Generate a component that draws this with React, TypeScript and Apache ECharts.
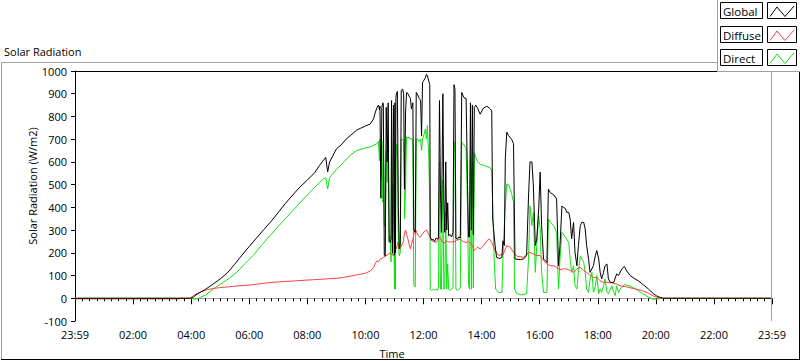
import React, { useEffect, useRef } from "react";
import * as echarts from "echarts";

const FONT = "'Open Sans', 'Noto Sans', sans-serif";

const titleText = "Solar Radiation";
const yAxisTitle = "Solar Radiation (W/m2)";
const xAxisTitle = "Time";
const legendNames = ["Global", "Diffuse", "Direct"];
const seriesColors = ["#000000", "#ff4040", "#10e010"];

const yMin = -100;
const yMax = 1000;
const yStep = 100;
const xMin = 0;
const xMax = 1440;
const xStep = 120;

const globalData: [string, number][] = [
  ["00:00", 0], ["03:58", 0], ["04:05", 6], ["04:12", 18], ["04:20", 28], ["04:30", 40], ["04:45", 62],
  ["05:00", 85], ["05:15", 112], ["05:30", 150], ["05:45", 190], ["06:00", 228], ["06:15", 265],
  ["06:30", 302], ["06:45", 338], ["07:00", 378], ["07:15", 418], ["07:30", 455], ["07:45", 490],
  ["08:00", 520], ["08:15", 552], ["08:25", 584], ["08:33", 606], ["08:38", 620], ["08:42", 556],
  ["08:46", 600], ["09:00", 657], ["09:10", 675], ["09:20", 700], ["09:30", 718], ["09:42", 740],
  ["09:50", 748], ["10:00", 758], ["10:10", 767], ["10:17", 790], ["10:20", 815], ["10:24", 840],
  ["10:27", 850], ["10:29", 830], ["10:30", 845], ["10:32", 440], ["10:34", 840], ["10:36", 860],
  ["10:37", 855], ["10:39", 190], ["10:41", 186], ["10:43", 840], ["10:45", 600], ["10:47", 860],
  ["10:49", 250], ["10:51", 245], ["10:53", 260], ["10:54", 870], ["10:56", 200], ["10:58", 850],
  ["11:00", 190], ["11:01", 860], ["11:02", 200], ["11:03", 880], ["11:04", 900], ["11:06", 910],
  ["11:08", 400], ["11:10", 217], ["11:12", 240], ["11:14", 915], ["11:17", 920], ["11:19", 900],
  ["11:21", 480], ["11:23", 820], ["11:25", 905], ["11:28", 900], ["11:30", 890], ["11:33", 880],
  ["11:35", 833], ["11:38", 860], ["11:40", 300], ["11:43", 290], ["11:45", 906], ["11:48", 895],
  ["11:51", 880], ["11:54", 870], ["11:56", 715], ["11:58", 950], ["12:01", 960], ["12:04", 970],
  ["12:06", 985], ["12:08", 980], ["12:11", 955], ["12:13", 940], ["12:14", 270], ["12:17", 255],
  ["12:20", 260], ["12:23", 250], ["12:26", 265], ["12:29", 260], ["12:31", 270], ["12:33", 870],
  ["12:35", 480], ["12:37", 290], ["12:40", 900], ["12:42", 430], ["12:44", 290], ["12:46", 600],
  ["12:48", 300], ["12:50", 420], ["12:52", 275], ["12:55", 280], ["12:58", 270], ["13:01", 290],
  ["13:03", 940], ["13:05", 920], ["13:07", 265], ["13:10", 260], ["13:13", 270], ["13:16", 265],
  ["13:19", 906], ["13:22", 890], ["13:25", 880], ["13:28", 880], ["13:31", 500], ["13:33", 270],
  ["13:35", 270], ["13:37", 860], ["13:39", 300], ["13:41", 850], ["13:43", 280], ["13:45", 840],
  ["13:48", 850], ["13:52", 835], ["13:57", 810], ["14:04", 837], ["14:11", 845], ["14:18", 833],
  ["14:21", 825], ["14:23", 349], ["14:28", 230], ["14:31", 180], ["14:38", 175], ["14:42", 180],
  ["14:44", 253], ["14:47", 232], ["14:49", 613], ["14:52", 731], ["14:56", 715], ["15:02", 700],
  ["15:06", 680], ["15:09", 173], ["15:20", 170], ["15:27", 173], ["15:33", 188], ["15:37", 450],
  ["15:40", 600], ["15:44", 600], ["15:47", 494], ["15:51", 232], ["15:54", 261], ["15:58", 393],
  ["16:01", 555], ["16:04", 320], ["16:08", 173], ["16:15", 158], ["16:18", 480], ["16:22", 465],
  ["16:29", 455], ["16:35", 437], ["16:39", 143], ["16:42", 232], ["16:46", 406], ["16:49", 400],
  ["16:53", 395], ["16:56", 378], ["17:00", 378], ["17:03", 349], ["17:06", 261], ["17:10", 334],
  ["17:13", 202], ["17:17", 143], ["17:20", 232], ["17:24", 320], ["17:27", 334], ["17:31", 334],
  ["17:34", 305], ["17:37", 232], ["17:41", 173], ["17:44", 114], ["17:51", 143], ["17:55", 188],
  ["17:58", 210], ["18:02", 173], ["18:05", 114], ["18:08", 85], ["18:12", 114], ["18:15", 143],
  ["18:19", 151], ["18:22", 85], ["18:26", 70], ["18:33", 70], ["18:39", 107], ["18:43", 100],
  ["18:50", 130], ["18:55", 140], ["19:00", 120], ["19:07", 100], ["19:15", 88], ["19:25", 75],
  ["19:35", 58], ["19:45", 40], ["19:55", 20], ["20:02", 10], ["20:10", 3], ["20:15", 0], ["24:00", 0],
];

const diffuseData: [string, number][] = [
  ["00:00", -3], ["03:36", -3], ["03:37", 0], ["03:58", 0], ["04:05", 12], ["04:12", 20], ["04:20", 28],
  ["04:30", 36], ["04:45", 43], ["05:00", 47], ["05:15", 50], ["05:30", 53], ["05:45", 56], ["06:00", 58],
  ["06:15", 62], ["06:30", 66], ["06:45", 70], ["07:00", 72], ["07:15", 74], ["07:30", 76], ["07:45", 78],
  ["08:00", 80], ["08:15", 82], ["08:30", 84], ["08:45", 86], ["09:00", 88], ["09:15", 92], ["09:30", 98],
  ["09:45", 104], ["10:00", 110], ["10:10", 120], ["10:17", 136], ["10:21", 155], ["10:24", 165],
  ["10:27", 160], ["10:30", 172], ["10:34", 176], ["10:37", 180], ["10:41", 186], ["10:45", 190],
  ["10:49", 198], ["10:53", 194], ["10:56", 190], ["10:58", 188], ["11:00", 200], ["11:02", 230],
  ["11:04", 217], ["11:07", 246], ["11:10", 225], ["11:12", 217], ["11:15", 235], ["11:18", 246],
  ["11:21", 290], ["11:23", 300], ["11:25", 280], ["11:28", 260], ["11:30", 240], ["11:33", 217],
  ["11:35", 235], ["11:38", 260], ["11:41", 290], ["11:43", 305], ["11:46", 290], ["11:49", 275],
  ["11:52", 270], ["11:54", 270], ["11:57", 280], ["12:01", 292], ["12:04", 298], ["12:06", 300],
  ["12:08", 292], ["12:11", 282], ["12:14", 265], ["12:17", 255], ["12:20", 250], ["12:23", 248],
  ["12:26", 245], ["12:29", 252], ["12:33", 270], ["12:37", 255], ["12:40", 245], ["12:44", 245],
  ["12:48", 252], ["12:52", 248], ["12:58", 248], ["13:03", 248], ["13:07", 255], ["13:13", 258],
  ["13:16", 260], ["13:22", 250], ["13:28", 245], ["13:33", 250], ["13:39", 240], ["13:43", 220],
  ["13:45", 210], ["13:48", 218], ["13:52", 225], ["13:57", 217], ["14:04", 232], ["14:11", 253],
  ["14:16", 261], ["14:21", 245], ["14:28", 210], ["14:35", 188], ["14:45", 195], ["14:52", 232],
  ["14:59", 225], ["15:06", 202], ["15:13", 185], ["15:27", 180], ["15:33", 195], ["15:40", 202],
  ["15:47", 195], ["15:54", 188], ["16:01", 188], ["16:08", 165], ["16:15", 151], ["16:22", 143],
  ["16:29", 143], ["16:35", 136], ["16:42", 126], ["16:49", 129], ["16:56", 129], ["17:03", 122],
  ["17:10", 114], ["17:17", 129], ["17:24", 136], ["17:31", 122], ["17:37", 114], ["17:44", 102],
  ["17:51", 92], ["17:58", 92], ["18:05", 77], ["18:12", 70], ["18:19", 70], ["18:26", 68],
  ["18:33", 66], ["18:39", 63], ["18:46", 55], ["19:00", 50], ["19:15", 42], ["19:30", 35],
  ["19:45", 22], ["19:55", 10], ["20:05", 3], ["20:12", 0], ["24:00", 0],
];

const directData: [string, number][] = [
  ["00:00", 0], ["04:00", 0], ["04:05", -3], ["04:15", -3], ["04:20", 5], ["04:30", 15], ["04:46", 41],
  ["05:06", 70], ["05:20", 90], ["05:34", 114], ["05:50", 150], ["06:08", 188], ["06:25", 232],
  ["06:43", 276], ["07:00", 316], ["07:17", 356], ["07:35", 397], ["07:52", 437], ["08:05", 466],
  ["08:19", 496], ["08:33", 525], ["08:38", 530], ["08:42", 481], ["08:46", 532], ["09:01", 569],
  ["09:15", 598], ["09:28", 628], ["09:42", 650], ["10:00", 662], ["10:10", 666], ["10:23", 679],
  ["10:27", 690], ["10:29", 604], ["10:30", 700], ["10:32", 525], ["10:34", 690], ["10:36", 423],
  ["10:37", 700], ["10:39", 320], ["10:41", 320], ["10:43", 650], ["10:45", 510], ["10:47", 700],
  ["10:49", 248], ["10:51", 275], ["10:53", 160], ["10:54", 690], ["10:56", 190], ["10:58", 500],
  ["11:00", 41], ["11:01", 620], ["11:02", 40], ["11:03", 600], ["11:04", 670], ["11:06", 680],
  ["11:08", 246], ["11:10", 187], ["11:12", 200], ["11:14", 700], ["11:17", 700], ["11:19", 690],
  ["11:21", 349], ["11:23", 500], ["11:25", 710], ["11:28", 705], ["11:30", 710], ["11:33", 700],
  ["11:35", 705], ["11:38", 690], ["11:40", 55], ["11:43", 50], ["11:45", 700], ["11:48", 700],
  ["11:51", 690], ["11:54", 700], ["11:56", 650], ["11:58", 700], ["12:01", 720], ["12:04", 745],
  ["12:06", 700], ["12:08", 760], ["12:11", 613], ["12:13", 420], ["12:14", 40], ["12:17", 35],
  ["12:20", 40], ["12:23", 35], ["12:26", 40], ["12:29", 35], ["12:31", 50], ["12:33", 600],
  ["12:35", 40], ["12:37", 40], ["12:40", 520], ["12:42", 40], ["12:44", 45], ["12:46", 380],
  ["12:48", 40], ["12:50", 150], ["12:52", 40], ["12:55", 35], ["12:58", 40], ["13:01", 45],
  ["13:03", 690], ["13:05", 650], ["13:07", 40], ["13:10", 35], ["13:13", 40], ["13:16", 45],
  ["13:19", 686], ["13:22", 680], ["13:25", 670], ["13:28", 660], ["13:31", 400], ["13:33", 60],
  ["13:35", 40], ["13:37", 620], ["13:39", 40], ["13:41", 600], ["13:43", 45], ["13:45", 640],
  ["13:48", 620], ["13:52", 600], ["13:57", 590], ["14:04", 585], ["14:11", 580], ["14:18", 575],
  ["14:21", 560], ["14:23", 407], ["14:26", 173], ["14:29", 41], ["14:35", 26], ["14:42", 26],
  ["14:45", 230], ["14:49", 407], ["14:52", 503], ["14:56", 500], ["14:59", 480], ["15:02", 460],
  ["15:06", 422], ["15:08", 41], ["15:13", 20], ["15:23", 15], ["15:33", 20], ["15:37", 173],
  ["15:40", 407], ["15:44", 320], ["15:47", 378], ["15:51", 114], ["15:54", 232], ["15:58", 364],
  ["16:01", 305], ["16:04", 114], ["16:08", 26], ["16:15", 26], ["16:18", 349], ["16:22", 335],
  ["16:29", 320], ["16:35", 290], ["16:39", 41], ["16:42", 173], ["16:46", 290], ["16:53", 270],
  ["17:00", 246], ["17:03", 173], ["17:06", 114], ["17:10", 143], ["17:13", 55], ["17:17", 41],
  ["17:20", 114], ["17:24", 187], ["17:27", 173], ["17:31", 158], ["17:34", 114], ["17:37", 41],
  ["17:41", 26], ["17:44", 85], ["17:48", 114], ["17:51", 26], ["17:55", 55], ["17:58", 100],
  ["18:02", 20], ["18:05", 41], ["18:08", 26], ["18:12", 55], ["18:15", 85], ["18:19", 26],
  ["18:22", 20], ["18:26", 41], ["18:29", 55], ["18:33", 26], ["18:36", 12], ["18:39", 55],
  ["18:43", 26], ["18:46", 40], ["18:55", 60], ["19:05", 55], ["19:15", 45], ["19:25", 32],
  ["19:35", 18], ["19:45", 5], ["19:55", -5], ["20:05", -3], ["20:12", 0], ["24:00", 0],
];

const toMin = (t: string) => {
  const [h, m] = t.split(":").map(Number);
  return h * 60 + m;
};
const toPoints = (arr: [string, number][]) => arr.map(([t, v]) => [toMin(t), v]);

const fmtTime = (v: number) => {
  if (v === xMin || v === xMax) return "23:59";
  const h = Math.floor(v / 60);
  return `${String(h).padStart(2, "0")}:00`;
};

export default function App() {
  const ref = useRef<HTMLDivElement>(null);
  useEffect(() => {
    document.body.style.margin = "0";
    document.body.style.background = "#fff";
    if (!ref.current) return;
    const chart = echarts.init(ref.current, null, { renderer: "svg" });

    const line = (x1: number, y1: number, x2: number, y2: number, stroke: string, z = 10) => ({
      type: "line",
      z,
      silent: true,
      shape: { x1, y1, x2, y2 },
      style: { stroke, lineWidth: 1 },
    });
    const txt = (text: string, x: number, y: number, align: string, size: number, rotation = 0, z = 10) => ({
      type: "text",
      x,
      y,
      z,
      rotation,
      silent: true,
      style: {
        text,
        fill: "#000",
        font: `${size}px ${FONT}`,
        align,
        textAlign: align,
        verticalAlign: "middle",
        textVerticalAlign: "middle",
      },
    });

    const legendRows = [2, 26, 49];
    const legendEls: any[] = [
      {
        type: "rect",
        z: 50,
        shape: { x: 717, y: 0, width: 83, height: 72 },
        style: { fill: "#ffffff", stroke: "none" },
      },
      line(717.5, 0, 717.5, 72, "#a0a0a0", 51),
      line(717, 71.5, 800, 71.5, "#a0a0a0", 51),
    ];
    legendNames.forEach((name, i) => {
      const y = legendRows[i];
      legendEls.push({
        type: "rect",
        z: 52,
        shape: { x: 720.5, y: y + 0.5, width: 42, height: 16 },
        style: { fill: "#fff", stroke: "#000", lineWidth: 1 },
      });
      legendEls.push({
        type: "rect",
        z: 52,
        shape: { x: 767.5, y: y + 0.5, width: 29, height: 16 },
        style: { fill: "#fff", stroke: "#000", lineWidth: 1 },
      });
      legendEls.push(txt(name, 723, y + 9, "left", 11.5, 0, 53));
      legendEls.push({
        type: "polyline",
        z: 53,
        shape: {
          points: [
            [770, y + 14.5],
            [777, y + 5],
            [785, y + 14.5],
            [794, y + 4],
          ],
        },
        style: { stroke: seriesColors[i], lineWidth: 1, fill: "none" },
      });
    });

    const option: any = {
      animation: false,
      backgroundColor: "#ffffff",
      grid: { left: 75, top: 71, width: 697, height: 250, show: false },
      xAxis: {
        type: "value",
        min: xMin,
        max: xMax,
        interval: xStep,
        axisLine: { show: true, lineStyle: { color: "#a0a0a0", width: 1 } },
        axisTick: { show: true, length: 6, lineStyle: { color: "#000", width: 1 } },
        minorTick: { show: true, splitNumber: 8, length: 3, lineStyle: { color: "#000", width: 1 } },
        splitLine: { show: false },
        minorSplitLine: { show: false },
        axisLabel: {
          show: true,
          margin: 8,
          color: "#000",
          fontFamily: FONT,
          fontSize: 11,
          showMinLabel: true,
          showMaxLabel: true,
          formatter: fmtTime,
        },
      },
      yAxis: {
        type: "value",
        min: yMin,
        max: yMax,
        interval: yStep,
        axisLine: { show: true, lineStyle: { color: "#000", width: 1 } },
        axisTick: { show: true, length: 4, lineStyle: { color: "#000", width: 1 } },
        splitLine: { show: false },
        axisLabel: {
          margin: 8,
          color: "#000",
          fontFamily: FONT,
          fontSize: 11,
          formatter: (v: number) => String(v),
        },
      },
      series: [
        { name: legendNames[2], data: toPoints(directData), color: seriesColors[2] },
        { name: legendNames[1], data: toPoints(diffuseData), color: seriesColors[1] },
        { name: legendNames[0], data: toPoints(globalData), color: seriesColors[0] },
      ].map((s) => ({
        type: "line",
        name: s.name,
        data: s.data,
        showSymbol: false,
        symbol: "none",
        lineStyle: { color: s.color, width: 1 },
        itemStyle: { color: s.color },
        clip: true,
      })),
      graphic: {
        elements: [
          line(1.5, 62, 1.5, 360, "#a0a0a0"),
          line(1, 62.5, 717, 62.5, "#a0a0a0"),
          line(1, 359.5, 800, 359.5, "#000"),
          line(799.5, 62, 799.5, 360, "#000"),
          line(75, 71.5, 772, 71.5, "#000"),
          line(771.5, 71, 771.5, 321, "#a0a0a0"),
          txt(titleText, 4, 51, "left", 11),
          txt(yAxisTitle, 32, 186, "center", 11, Math.PI / 2),
          txt(xAxisTitle, 392, 353, "center", 11),
          ...legendEls,
        ],
      },
    };
    chart.setOption(option);
    return () => chart.dispose();
  }, []);
  return <div ref={ref} style={{ width: 800, height: 361 }} />;
}
